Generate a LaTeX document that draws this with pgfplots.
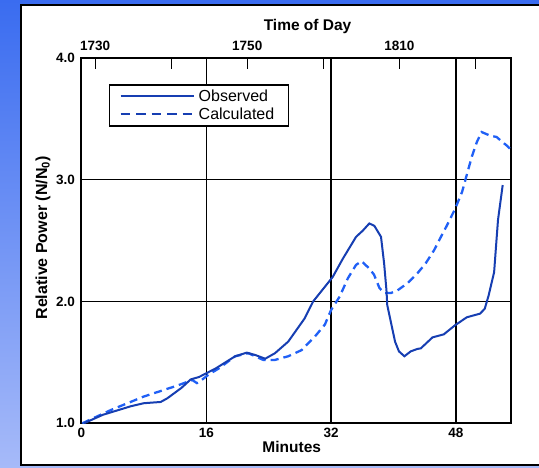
\documentclass[border=0pt]{standalone}
\usepackage{fontspec}
\setmainfont{Liberation Sans}
\usepackage{pgfplots}
\pgfplotsset{compat=1.18}

\definecolor{obsblue}{RGB}{22,62,178}
\definecolor{calcblue}{RGB}{32,96,246}
\definecolor{bgtop}{RGB}{58,108,240}
\definecolor{bgbot}{RGB}{166,186,249}

\pgfplotstableread{
x y
0.3 1.00
2.75 1.07
6.33 1.14
8.0 1.165
10.15 1.175
11.0 1.205
12.8 1.29
14.0 1.36
15.07 1.38
17.2 1.45
19.7 1.55
21.2 1.58
22.3 1.56
23.55 1.53
24.8 1.575
26.5 1.67
28.6 1.86
29.7 2.00
31.2 2.12
32.2 2.20
33.5 2.35
35.2 2.53
36.05 2.58
36.9 2.64
37.55 2.62
38.4 2.53
38.8 2.31
39.1 2.09
39.2 1.97
39.7 1.82
40.2 1.67
40.7 1.59
41.4 1.55
42.2 1.59
43.05 1.61
43.5 1.615
45.0 1.705
46.45 1.73
47.9 1.805
49.4 1.87
51.1 1.90
51.7 1.94
52.2 2.05
52.9 2.24
53.2 2.50
53.4 2.67
54.0 2.955
}\observed

\pgfplotstableread{
x y
0.1 1.00
3.8 1.11
8.0 1.22
12.3 1.31
14.2 1.355
14.8 1.33
15.1 1.34
16.3 1.40
17.6 1.45
19.7 1.55
21.4 1.575
23.3 1.52
24.8 1.52
26.5 1.55
28.2 1.60
29.9 1.71
31.2 1.81
32.0 1.93
33.1 2.04
34.15 2.19
35.2 2.30
35.9 2.33
36.9 2.27
37.5 2.22
38.2 2.11
38.8 2.07
39.7 2.07
40.5 2.09
41.8 2.15
43.05 2.23
44.1 2.31
45.2 2.42
46.0 2.52
46.9 2.63
47.9 2.76
48.8 2.90
49.4 3.04
50.05 3.19
50.7 3.31
51.3 3.39
52.4 3.36
53.2 3.35
54.5 3.28
55.0 3.25
}\calculated

\begin{document}
\begin{tikzpicture}
% slide background and white panel
\shade[top color=bgtop, bottom color=bgbot] (0pt,0pt) rectangle (539pt,467pt);
\filldraw[fill=white, draw=black, line width=2.2pt] (20.6pt,2pt) rectangle (548pt,462.3pt);

\pgfplotsset{
  common/.style={
    at={(81.5pt,43.7pt)}, anchor=south west,
    scale only axis, width=429pt, height=365.6pt,
    xmin=0, xmax=55, ymin=1, ymax=4,
    ticklabel style={font=\bfseries\fontsize{13.5}{15}\selectfont},
  }
}

\begin{axis}[
  common,
  axis line style={black, line width=2pt},
  xtick={0,16,32,48}, xticklabels={0,16,32,48},
  ytick={1,2,3,4}, yticklabels={1.0,2.0,3.0,4.0},
  xtick pos=bottom, ytick pos=left,
  major tick length=0pt,
  xmajorgrids, ymajorgrids,
  grid style={black, line width=1.5pt},
  yticklabel style={xshift=-3pt},
  xticklabel style={yshift=-1pt},
  xlabel={Minutes},
  xlabel style={font=\bfseries\fontsize{15.5}{17}\selectfont,
    at={(axis description cs:0.49,0)}, anchor=center, yshift=-24pt},
  ylabel={Relative Power (N/N\textsubscript{0})},
  ylabel style={font=\bfseries\fontsize{16}{18}\selectfont,
    at={(axis description cs:-0.0897,0.507)}, anchor=center},
  legend image code/.code={\draw[#1] (0pt,0pt) -- (73pt,0pt);},
  legend cell align=left,
  legend style={at={(0.064,0.928)}, anchor=north west,
    draw=black, line width=1.5pt, fill=white,
    font=\fontsize{16}{18}\selectfont,
    inner xsep=10pt, inner ysep=3pt, row sep=1pt,
    nodes={inner xsep=4pt}},
]
\addlegendimage{obsblue, line width=2pt}
\addlegendimage{obsblue, line width=2pt, dash pattern=on 9.5pt off 6pt}
\addplot[forget plot, calcblue, line width=2.3pt, dash pattern=on 8pt off 5pt]
  table[x=x, y=y] {\calculated};
\addplot[forget plot, obsblue, line width=2pt] table[x=x, y=y] {\observed};
\legend{Observed, Calculated}
\end{axis}

\begin{axis}[
  common,
  axis y line=none,
  axis x line*=top,
  axis line style={black, line width=2pt},
  xtick={1.75,11.5,21.25,31,40.75,50.5},
  xticklabels={1730,,1750,,1810,},
  tick align=inside,
  major tick length=11.7pt,
  xtick style={black, line width=1.3pt},
  xticklabel style={yshift=4pt},
  xlabel={Time of Day},
  xlabel style={font=\bfseries\fontsize{15.5}{17}\selectfont,
    at={(axis description cs:0.527,1)}, anchor=center, yshift=31pt},
]
\end{axis}

\pgfresetboundingbox
\useasboundingbox (0pt,0pt) rectangle (539pt,467pt);
\end{tikzpicture}
\end{document}
